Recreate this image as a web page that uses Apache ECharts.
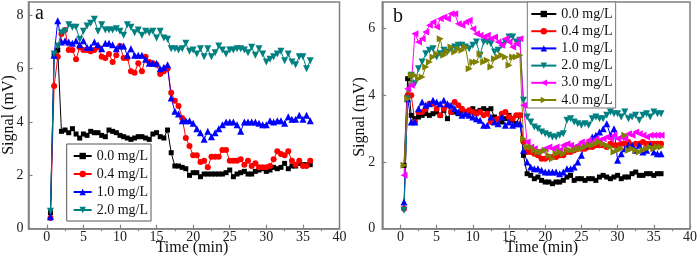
<!DOCTYPE html>
<html>
<head>
<meta charset="utf-8">
<script src="https://cdn.jsdelivr.net/npm/echarts@6/dist/echarts.min.js"></script>
<style>
html, body { margin: 0; padding: 0; background: #fff; }
#chart { width: 700px; height: 262px; }
</style>
</head>
<body>
<div id="chart"></div>
<script>
// sampling times (min)
let time = [0.5,1,1.5,2,2.5,3,3.5,4,4.5,5,5.5,6,6.5,7,7.5,8,8.5,9,9.5,10,
    10.5,11,11.5,12,12.5,13,13.5,14,14.5,15,15.5,16,16.5,17,17.5,18,18.5,19,19.5,20,
    20.5,21,21.5,22,22.5,23,23.5,24,24.5,25,25.5,26,26.5,27,27.5,28,28.5,29,29.5,30,
    30.5,31,31.5,32,32.5,33,33.5,34,34.5,35,35.5,36];

let names = ['0.0 mg/L', '0.4 mg/L', '1.0 mg/L', '2.0 mg/L', '3.0 mg/L', '4.0 mg/L'];

// panel a
let a_00 = [0.6,6.5,6.7,3.65,3.7,3.6,3.75,3.55,3.4,3.55,
    3.5,3.65,3.6,3.6,3.5,3.45,3.7,3.65,3.6,3.5,
    3.45,3.4,3.35,3.4,3.45,3.45,3.4,3.35,3.55,3.6,
    3.45,3.4,3.7,2.85,2.35,2.35,2.3,2.25,2.0,2.1,
    2.1,1.95,2.05,2.05,2.05,2.05,2.05,2.05,2.1,2.2,
    1.95,2.05,2.1,2.15,2.05,2.05,2.15,2.2,2.25,2.15,
    2.2,2.3,2.25,2.3,2.45,2.25,2.35,2.35,2.45,2.4,
    2.4,2.4];
let a_04 = [0.4,5.35,6.45,7.3,7.45,6.7,6.7,6.35,6.8,6.7,
    6.7,6.65,6.7,6.8,6.45,6.4,6.55,6.25,6.5,6.85,
    6.4,6.4,5.9,5.85,6.2,5.9,6.45,6.25,6.2,6.15,
    5.8,5.9,6.0,5.1,4.8,4.6,4.15,3.4,3.1,2.75,
    2.75,2.5,2.55,2.3,2.7,2.7,2.7,2.95,2.95,2.55,
    2.55,2.55,2.6,2.4,2.55,2.35,2.45,2.3,2.3,2.3,
    2.35,2.6,2.9,2.8,2.75,2.9,2.55,2.4,2.55,2.35,
    2.35,2.55];
let a_10 = [0.45,6.5,7.8,7.0,7.05,7.0,6.95,7.05,6.9,7.05,
    6.8,6.8,7.0,6.9,6.75,6.95,6.95,6.9,6.75,6.85,
    6.85,6.5,6.75,6.5,6.5,6.5,6.35,6.2,6.2,6.2,
    6.0,6.05,6.15,4.9,4.4,4.3,4.05,4.05,4.05,3.95,
    3.75,3.6,3.35,3.65,3.45,3.6,3.75,3.9,4.0,4.0,
    4.0,3.9,3.65,4.0,4.0,4.0,4.0,3.95,3.9,3.9,
    4.05,4.0,4.05,4.05,3.95,4.2,4.1,4.1,4.25,4.1,
    4.25,4.05];
let a_20 = [0.65,6.55,6.85,7.35,7.4,7.65,7.55,7.55,7.1,7.4,
    7.6,7.7,7.85,7.4,7.65,7.45,7.45,7.45,7.5,7.4,
    7.25,7.65,7.55,7.35,7.45,7.25,7.4,7.35,7.4,7.15,
    7.4,7.15,7.1,6.75,6.75,6.7,6.75,6.95,6.65,6.7,
    6.55,6.75,6.45,6.75,6.45,6.6,6.85,6.7,6.55,6.7,
    6.7,6.75,6.75,6.7,6.6,6.8,6.5,6.75,6.55,6.25,
    6.35,6.45,6.55,6.65,6.3,6.55,6.25,6.15,6.45,6.45,
    6.0,6.3];

// panel b
let b_00 = [1.9,4.5,3.4,3.3,3.35,3.4,3.45,3.4,3.45,3.5,
    3.4,3.55,3.3,3.5,3.5,3.45,3.55,3.5,3.5,3.6,
    3.5,3.55,3.6,3.55,3.6,3.35,3.3,3.2,3.3,3.4,
    3.25,3.15,3.4,2.2,1.65,1.6,1.5,1.55,1.45,1.4,
    1.4,1.35,1.4,1.4,1.45,1.55,1.6,1.45,1.5,1.5,
    1.45,1.5,1.5,1.45,1.55,1.6,1.55,1.5,1.55,1.6,
    1.5,1.55,1.55,1.65,1.7,1.6,1.6,1.65,1.65,1.6,
    1.65,1.65];
let b_04 = [0.6,4.0,4.0,3.2,3.5,3.5,3.6,3.75,3.75,3.6,
    3.4,3.6,3.7,3.5,3.8,3.7,3.6,3.5,3.55,3.5,
    3.45,3.5,3.4,3.45,3.2,3.25,3.3,3.45,3.5,3.35,
    3.3,3.4,3.4,2.6,2.3,2.3,2.25,2.2,2.1,2.1,
    2.15,2.15,2.15,2.2,2.2,2.3,2.3,2.35,2.4,2.4,
    2.4,2.45,2.45,2.5,2.5,2.5,2.45,2.55,2.5,2.5,
    2.55,2.55,2.6,2.5,2.55,2.55,2.6,2.55,2.55,2.55,
    2.55,2.55];
let b_10 = [0.8,3.9,3.2,3.2,3.6,3.8,3.7,3.75,3.85,3.8,
    3.75,3.85,3.75,3.7,3.6,3.5,3.4,3.45,3.4,3.35,
    3.3,3.25,3.1,3.1,3.35,3.2,3.15,3.35,3.1,3.2,
    3.1,3.15,3.15,2.35,2.0,1.85,1.8,1.8,1.75,1.7,
    1.7,1.7,1.7,1.65,1.7,1.8,1.8,1.85,2.0,2.2,
    2.5,2.55,2.75,2.8,2.9,3.0,3.15,2.8,3.0,2.05,
    2.25,2.4,2.5,2.5,2.35,2.5,2.3,2.35,2.5,2.3,
    2.25,2.25];
let b_20 = [0.55,3.9,4.6,4.35,4.8,5.0,5.25,5.35,5.4,5.15,
    5.25,5.35,5.3,5.4,5.45,5.5,5.5,5.45,5.4,5.5,
    5.6,5.2,5.6,5.6,5.55,5.3,5.35,5.5,5.6,5.75,
    5.75,5.6,5.65,3.85,3.35,3.2,3.05,3.0,2.9,2.85,
    2.8,2.75,2.75,2.8,2.85,3.25,3.3,3.2,3.15,3.1,
    3.15,3.1,3.3,3.35,3.3,3.3,3.4,3.5,3.45,3.45,
    3.35,3.5,3.3,3.35,3.4,3.25,3.4,3.45,3.35,3.5,
    3.45,3.45];
let b_30 = [1.6,4.2,4.3,5.85,5.6,5.7,5.9,6.1,6.2,6.05,
    6.3,6.35,6.3,6.45,6.45,6.15,6.1,6.2,6.25,6.0,
    5.85,5.8,5.75,5.8,5.7,5.75,5.6,5.5,5.7,5.6,
    5.45,5.55,5.7,3.7,2.6,2.45,2.4,2.3,2.35,2.4,
    2.45,2.4,2.45,2.35,2.5,2.55,2.5,2.45,2.5,2.6,
    2.55,2.65,2.6,2.7,2.65,2.7,2.75,2.7,2.8,2.7,
    2.75,2.7,2.85,2.8,2.9,2.85,2.8,2.75,2.8,2.8,
    2.8,2.8];
let b_40 = [1.9,3.9,4.6,4.6,4.5,4.55,4.85,5.0,5.15,5.25,
    5.7,5.2,5.3,5.45,5.3,5.4,5.35,5.45,4.8,5.0,
    5.0,5.25,5.0,5.05,4.85,5.1,5.15,5.2,5.15,4.9,
    5.15,5.15,5.2,2.7,2.45,2.45,2.35,2.3,2.3,2.35,
    2.2,2.1,2.25,2.3,2.25,2.35,2.35,2.35,2.4,2.4,
    2.45,2.5,2.5,2.55,2.6,2.55,2.5,2.45,2.3,2.35,
    2.4,2.8,2.35,2.4,2.35,2.3,2.35,2.4,2.45,2.4,
    2.45,2.45];

// tick labels
let x_ticks = [0, 5, 10, 15, 20, 25, 30, 35, 40];
let x_minor = [2.5, 7.5, 12.5, 17.5, 22.5, 27.5, 32.5, 37.5];
let ya_ticks = [0, 2, 4, 6, 8];
let yb_ticks = [0, 2, 4, 6];

let font = 'Liberation Serif';
let axis_color = '#808080';

let styles = [
    {color: '#000000', symbol: 'rect', size: 5, rotate: 0},
    {color: '#ff0000', symbol: 'circle', size: 6, rotate: 0},
    {color: '#0000ff', symbol: 'triangle', size: 7, rotate: 0},
    {color: '#008080', symbol: 'triangle', size: 7, rotate: 180},
    {color: '#ff00ff', symbol: 'triangle', size: 7, rotate: 90},
    {color: '#808000', symbol: 'triangle', size: 7, rotate: -90}
];

function pairs(values) {
    return values.map(function (v, i) { return [time[i], v]; });
}

function make_series(k, values, xi, yi) {
    let s = styles[k];
    return {
        name: names[k],
        type: 'line',
        xAxisIndex: xi,
        yAxisIndex: yi,
        data: pairs(values),
        symbol: s.symbol,
        symbolSize: s.size,
        symbolRotate: s.rotate,
        showAllSymbol: true,
        itemStyle: {color: s.color},
        lineStyle: {color: s.color, width: 1},
        emphasis: {disabled: true},
        z: 2
    };
}

function make_x(idx) {
    return [{
        type: 'value', gridIndex: idx, min: -2.5, max: 40,
        axisLine: {onZero: false, lineStyle: {color: axis_color, width: 1.5}},
        axisTick: {inside: true, length: 4, customValues: x_ticks, lineStyle: {color: axis_color, width: 1.2}},
        axisLabel: {customValues: x_ticks, fontFamily: font, fontSize: 14, color: '#222', margin: 2},
        splitLine: {show: false}
    }, {
        // minor ticks only
        type: 'value', gridIndex: idx, min: -2.5, max: 40,
        axisLine: {show: false},
        axisTick: {inside: true, length: 2.5, customValues: x_minor, lineStyle: {color: axis_color, width: 1.2}},
        axisLabel: {show: false},
        splitLine: {show: false}
    }];
}

function make_y(idx, max, ticks, margin) {
    return {
        type: 'value', gridIndex: idx, min: 0, max: max,
        axisLine: {show: true, onZero: false, lineStyle: {color: axis_color, width: 1.5}},
        axisTick: {show: true, inside: true, length: 4, customValues: ticks, lineStyle: {color: axis_color, width: 1.2}},
        axisLabel: {customValues: ticks, fontFamily: font, fontSize: 14, color: '#222', margin: margin},
        splitLine: {show: false}
    };
}

// axis titles as plain text
function axis_title(text, x, y, rot) {
    return {
        type: 'text', x: x, y: y, rotation: rot,
        style: {text: text, font: '16px "Liberation Serif"', fill: '#111', align: 'center', verticalAlign: 'middle'}
    };
}

let series = [];
[a_00, a_04, a_10, a_20].forEach(function (v, k) { series.push(make_series(k, v, 0, 0)); });
[b_00, b_04, b_10, b_20, b_30, b_40].forEach(function (v, k) { series.push(make_series(k, v, 2, 1)); });

let legend_text = {fontFamily: font, fontSize: 14, color: '#111'};

let option = {
    animation: false,
    backgroundColor: '#fff',
    textStyle: {fontFamily: font},
    title: [
        {text: 'a', left: 35, top: 4, padding: 0, textStyle: {fontFamily: font, fontSize: 20, fontWeight: 'normal', color: '#111'}},
        {text: 'b', left: 393, top: 7, padding: 0, textStyle: {fontFamily: font, fontSize: 20, fontWeight: 'normal', color: '#111'}}
    ],
    grid: [
        {left: 28.5, top: 2, width: 311, height: 226.7, show: true, borderColor: axis_color, borderWidth: 1.5},
        {left: 382.3, top: 2, width: 310, height: 226.7, show: true, borderColor: axis_color, borderWidth: 1.5}
    ],
    xAxis: make_x(0).concat(make_x(1)),
    yAxis: [make_y(0, 8.5, ya_ticks, 5), make_y(1, 6.8, yb_ticks, 7)],
    legend: [
        {
            data: names.slice(0, 4), left: 66.7, top: 144, orient: 'vertical',
            itemWidth: 18, itemHeight: 8, itemGap: 4, padding: [5, 3, 4, 6],
            borderColor: '#555', borderWidth: 1, selectedMode: false,
            textStyle: legend_text
        },
        {
            data: names, left: 527.3, top: 2, orient: 'vertical',
            itemWidth: 25, itemHeight: 8, itemGap: 3.2, padding: [5, 3, 1, 3],
            borderColor: '#777', borderWidth: 1, selectedMode: false,
            backgroundColor: '#fff',
            textStyle: legend_text
        }
    ],
    graphic: [
        axis_title('Time (min)', 192, 248, 0),
        axis_title('Time (min)', 541.7, 248, 0),
        axis_title('Signal (mV)', 9, 115, Math.PI / 2),
        axis_title('Signal (mV)', 360, 117, Math.PI / 2)
    ],
    series: series
};

let chart = echarts.init(document.getElementById('chart'));
chart.setOption(option);
</script>
</body>
</html>
